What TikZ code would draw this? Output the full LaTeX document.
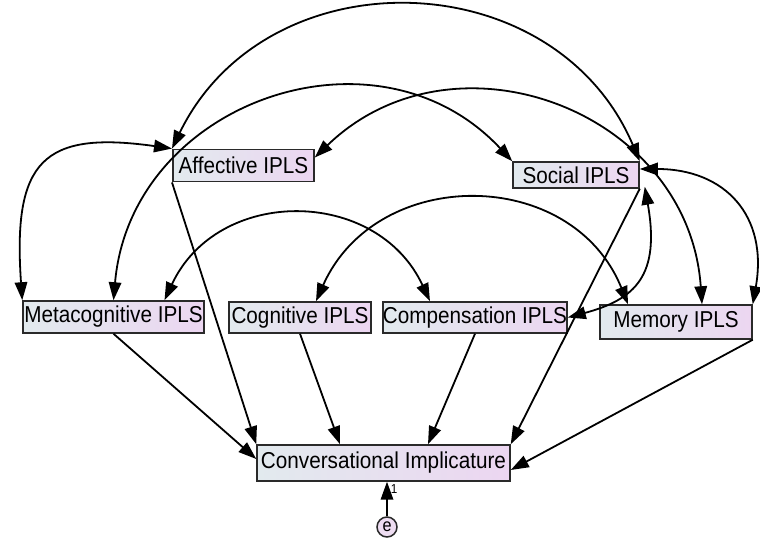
\documentclass[tikz,border=0pt]{standalone}
\usepackage{fontspec}
\setmainfont{Liberation Sans}[FakeStretch=0.9]
\usetikzlibrary{arrows.meta,calc}
\definecolor{boxL}{HTML}{E2EAEE}
\definecolor{boxR}{HTML}{ECD6F1}
\definecolor{edgeC}{HTML}{2A2A2A}
\definecolor{eFill}{HTML}{EEDDF2}
\begin{document}
\begin{tikzpicture}[x=1pt,y=1pt,
  var/.style={draw=edgeC, line width=1.5pt, left color=boxL, right color=boxR, inner sep=0pt,
    font=\fontsize{23}{27}\selectfont, text=black},
  link/.style={line width=1.8pt, -{Triangle[length=18pt,width=12.5pt]}},
  cov/.style={line width=1.8pt, {Triangle[length=18pt,width=12.5pt]}-{Triangle[length=18pt,width=12.5pt]}},
]
\useasboundingbox (0,0) rectangle (760,540);
\node[var, minimum width=141.3pt, minimum height=32.4pt] (aff) at (243.4,374.5) {Affective IPLS};
\node[var, minimum width=126pt, minimum height=26pt] (soc) at (576,365) {Social IPLS};
\node[var, minimum width=181pt, minimum height=32pt] (meta) at (113.5,223) {Metacognitive IPLS};
\node[var, minimum width=142pt, minimum height=31pt] (cog) at (300,222.5) {Cognitive IPLS};
\node[var, minimum width=182pt, minimum height=31pt] (comp) at (475,222.5) {Compensation IPLS};
\node[var, minimum width=152pt, minimum height=34pt] (mem) at (676,218) {Memory IPLS};
\node[var, minimum width=253pt, minimum height=36pt] (ci) at (383.5,77) {Conversational Implicature};
\node[circle, draw=edgeC, line width=1.5pt, fill=eFill, minimum size=20pt, inner sep=0pt,
  font=\fontsize{18}{20}\selectfont] (e) at (387,13) {e};
\node[font=\fontsize{13}{15}\selectfont] (one) at (394,51) {1};
% covariances
\draw[cov] (aff.north west) to[out=64,in=113,distance=217pt] (soc.north east);
\draw[cov] (meta.north) to[out=85,in=133,distance=199pt] (soc.north west);
\draw[cov] ([yshift=8pt]aff.east) to[out=44,in=94,distance=194pt] ([xshift=26pt]mem.north);
\draw[cov] ([yshift=6pt]soc.east) to[out=0,in=80,out distance=85pt,in distance=90pt] (mem.north east);
\draw[cov] ([shift={(5pt,2pt)}]soc.south east) to[out=-80,in=15,out distance=90pt,in distance=70pt] (comp.east);
\draw[cov] (aff.north west) to[out=172,in=94,out distance=130pt,in distance=140pt] (meta.north west);
\draw[cov] ([xshift=51pt]meta.north) to[out=65,in=115,distance=126pt] ([xshift=-45pt]comp.north);
\draw[cov] ([xshift=16pt]cog.north) to[out=66,in=112,distance=149pt] ([xshift=-48pt]mem.north);
% regressions
\draw[link] (aff.south west) -- (ci.north west);
\draw[link] (meta.south) -- ([yshift=4pt]ci.west);
\draw[link] (cog.south) -- ([xshift=-43.5pt]ci.north);
\draw[link] (comp.south) -- ([xshift=44.5pt]ci.north);
\draw[link] (soc.south east) -- (ci.north east);
\draw[link] (mem.south east) -- ([yshift=-7pt]ci.east);
\draw[link] (e) -- ([xshift=3.5pt]ci.south);
\end{tikzpicture}
\end{document}
